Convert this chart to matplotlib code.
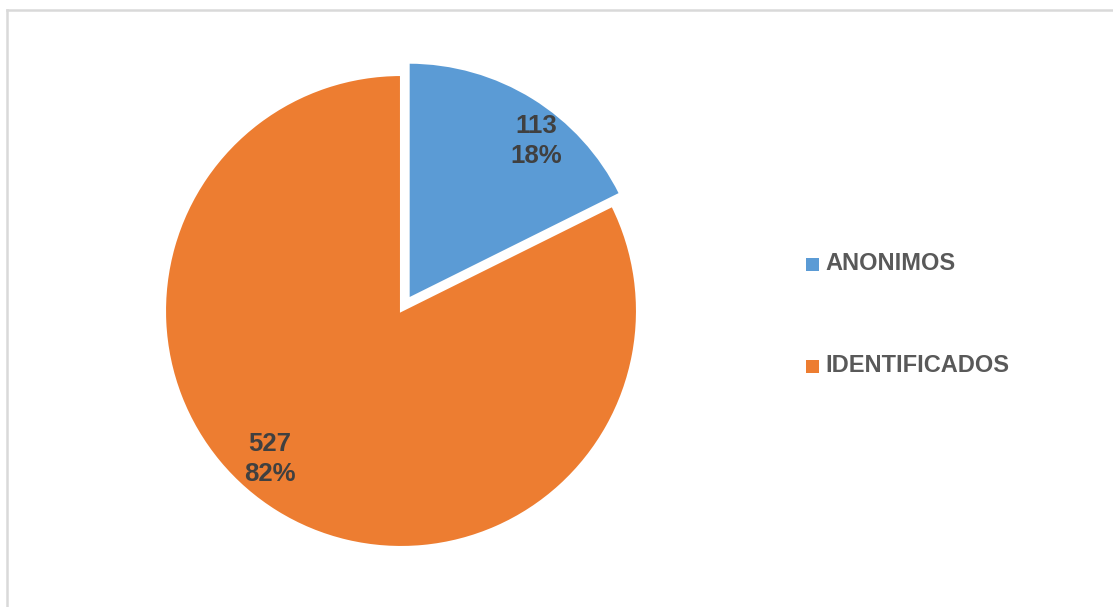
import matplotlib
matplotlib.use("Agg")
import matplotlib.pyplot as plt
from matplotlib.patches import Rectangle
from matplotlib.lines import Line2D

categories = ["ANONIMOS", "IDENTIFICADOS"]
values = [113, 527]
colors = ["#5B9BD5", "#ED7D31"]

W, H = 1113, 607
fig = plt.figure(figsize=(W / 100, H / 100), dpi=100)
fig.patch.set_facecolor("white")
ax = fig.add_axes([0, 0, 1, 1])
ax.set_xlim(0, W)
ax.set_ylim(0, H)
ax.set_aspect("equal")
ax.axis("off")

# chart area border (top and left visible)
ax.add_line(Line2D([7, 7], [-5, H - 10], color="#D9D9D9", lw=1.8))
ax.add_line(Line2D([7, W + 5], [H - 10, H - 10], color="#D9D9D9", lw=1.8))

radius = 236
center = (401, H - 311)
wedges, _ = ax.pie(values, colors=colors, startangle=90, counterclock=False,
                   radius=radius, center=center, explode=[14.5, 0],
                   wedgeprops=dict(edgecolor="white", linewidth=1.5))
ax.set_xlim(0, W)
ax.set_ylim(0, H)

total = sum(values)
label_pos = [(536, H - 141), (270, H - 459)]
for v, (x, y) in zip(values, label_pos):
    ax.text(x, y, f"{v}\n{round(100 * v / total)}%", ha="center", va="center",
            fontsize=18.5, fontweight="bold", color="#404040",
            family="Liberation Sans", linespacing=1.3)

# legend
leg_y = [H - 264, H - 366]
for cat, col, y in zip(categories, colors, leg_y):
    ax.add_patch(Rectangle((806, y - 6.5), 13, 13, facecolor=col, edgecolor="none"))
    ax.text(825, y, cat, ha="left", va="center", fontsize=17, fontweight="bold",
            color="#595959", family="Liberation Sans")

fig.savefig("out.png", dpi=100, facecolor="white")
